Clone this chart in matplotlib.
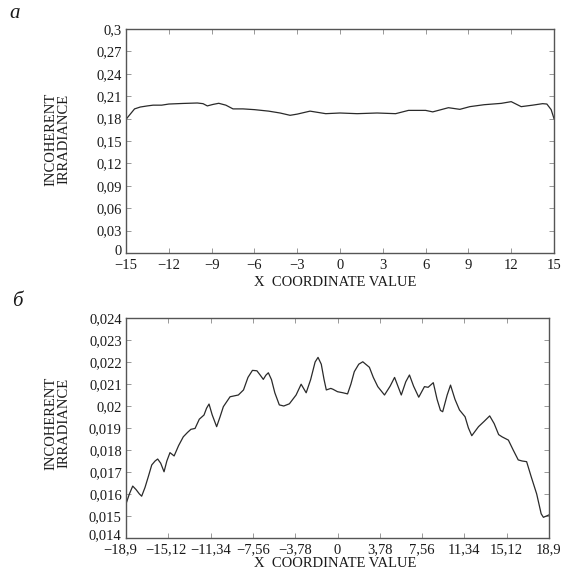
import matplotlib
matplotlib.use("Agg")
import matplotlib.pyplot as plt
import matplotlib.transforms as mtransforms
from matplotlib.ticker import FixedLocator, FixedFormatter

plt.rcParams['font.family'] = ['Liberation Serif', 'DejaVu Serif']

# Panel (a): incoherent irradiance profile
xa = [-15, -14.7, -14.4, -14.0, -13.5, -13.1, -12.5, -12, -11, -10, -9.6, -9.3,
      -8.9, -8.5, -8.0, -7.5, -6.8, -6, -5, -4.2, -3.5, -3, -2.1, -1, 0, 1.2,
      2.6, 3.9, 4.8, 6, 6.5, 7.6, 8.4, 9.1, 10.1, 11.3, 12, 12.7, 13.5, 14.2,
      14.5, 14.8, 15]
ya = [0.179, 0.186, 0.193, 0.1955, 0.197, 0.198, 0.198, 0.1995, 0.2003, 0.2009,
      0.200, 0.197, 0.199, 0.2005, 0.198, 0.193, 0.193, 0.192, 0.190, 0.1875,
      0.1844, 0.186, 0.190, 0.1866, 0.1875, 0.1866, 0.1875, 0.1866, 0.191,
      0.191, 0.189, 0.1946, 0.1924, 0.196, 0.1986, 0.2004, 0.2027, 0.196,
      0.198, 0.200, 0.1995, 0.192, 0.180]
xticks_a = [-15, -12, -9, -6, -3, 0, 3, 6, 9, 12, 15]
xlabels_a = ['\u221215', '\u221212', '\u22129', '\u22126', '\u22123', '0',
             '3', '6', '9', '12', '15']
yticks_a = [0, 0.03, 0.06, 0.09, 0.12, 0.15, 0.18, 0.21, 0.24, 0.27, 0.3]
ylabels_a = ['0', '0,03', '0,06', '0,09', '0,12', '0,15', '0,18', '0,21',
             '0,24', '0,27', '0,3']

# Panel (б)
xb = [-18.9, -18.6, -18.3, -18.0, -17.7, -17.5, -17.2, -16.9, -16.6, -16.3,
      -16.07, -15.8, -15.5, -15.25, -14.97, -14.6, -14.2, -13.78, -13.4, -13.1,
      -12.73, -12.35, -11.93, -11.7, -11.48, -11.2, -10.8, -10.5, -10.2, -9.6,
      -8.86, -8.4, -8.0, -7.6, -7.2, -6.9, -6.63, -6.4, -6.18, -5.9, -5.6,
      -5.2, -4.8, -4.3, -3.7, -3.25, -2.8, -2.4, -2.0, -1.74, -1.45, -1.2,
      -1.0, -0.6, -0.4, 0, 0.5, 0.9, 1.2, 1.5, 1.9, 2.26, 2.85, 3.2, 3.6, 4.2,
      4.7, 5.1, 5.4, 5.7, 6.1, 6.43, 6.8, 7.26, 7.77, 8.1, 8.56, 8.9, 9.2, 9.4,
      9.8, 10.1, 10.5, 10.9, 11.4, 11.7, 12.0, 12.6, 13.1, 13.6, 14.0, 14.4,
      14.7, 15.27, 15.7, 16.15, 16.5, 16.9, 17.3, 17.8, 18.2, 18.4, 18.9]
yb = [0.01555, 0.0160, 0.01636, 0.0162, 0.0160, 0.0159, 0.0163, 0.0168,
      0.01732, 0.0175, 0.01759, 0.0174, 0.01701, 0.0175, 0.01788, 0.01773,
      0.0182, 0.0186, 0.0188, 0.01894, 0.01898, 0.0194, 0.01959, 0.0199,
      0.02009, 0.0196, 0.01906, 0.0195, 0.01997, 0.02042, 0.0205, 0.02073,
      0.0213, 0.02162, 0.0216, 0.0214, 0.02121, 0.0214, 0.02151, 0.0212,
      0.0206, 0.02005, 0.0200, 0.0201, 0.0205, 0.02099, 0.0206, 0.0212,
      0.0220, 0.02221, 0.0219, 0.0212, 0.02073, 0.0208, 0.02076, 0.02065,
      0.0206, 0.02055, 0.0210, 0.02156, 0.0219, 0.02201, 0.02176, 0.0213,
      0.02088, 0.0205, 0.0209, 0.0213, 0.0209, 0.0205, 0.0211, 0.02141,
      0.0209, 0.0204, 0.02088, 0.02085, 0.02106, 0.0203, 0.0198, 0.01974,
      0.0205, 0.02095, 0.0203, 0.01982, 0.01951, 0.0190, 0.01865, 0.01906,
      0.0193, 0.01955, 0.0192, 0.0187, 0.0186, 0.01845, 0.0180, 0.01755,
      0.0175, 0.01747, 0.0168, 0.0160, 0.0151, 0.01494, 0.01505]
xticks_b = [-18.9, -15.12, -11.34, -7.56, -3.78, 0, 3.78, 7.56, 11.34, 15.12, 18.9]
xlabels_b = ['\u221218,9', '\u221215,12', '\u221211,34', '\u22127,56',
             '\u22123,78', '0', '3,78', '7,56', '11,34', '15,12', '18,9']
yticks_b = [0.014, 0.015, 0.016, 0.017, 0.018, 0.019, 0.02, 0.021, 0.022,
            0.023, 0.024]
ylabels_b = ['0,014', '0,015', '0,016', '0,017', '0,018', '0,019', '0,02',
             '0,021', '0,022', '0,023', '0,024']

W, H = 567, 572
fig = plt.figure(figsize=(W / 100, H / 100), dpi=100)

spine_col = '#555555'
line_col = '#2a2a2a'
txt_col = '#1a1a1a'
fs = 10.5


def style(ax, xt, xl, yt, yl, xlim, ylim):
    ax.set_xlim(*xlim)
    ax.set_ylim(*ylim)
    ax.xaxis.set_major_locator(FixedLocator(xt))
    ax.xaxis.set_major_formatter(FixedFormatter(xl))
    ax.yaxis.set_major_locator(FixedLocator(yt))
    ax.yaxis.set_major_formatter(FixedFormatter(yl))
    ax.tick_params(direction='in', length=3.5, width=0.6, color='#888888',
                   top=True, right=True, labelsize=fs, pad=3,
                   labelcolor=txt_col)
    ax.tick_params(axis='x', pad=4)
    for s in ax.spines.values():
        s.set_color(spine_col)
        s.set_linewidth(1.0)


def shift(lbl, dx, dy):
    lbl.set_transform(lbl.get_transform() +
                      mtransforms.ScaledTranslation(dx / 100, dy / 100,
                                                    fig.dpi_scale_trans))


ax1 = fig.add_axes([126 / W, 1 - 253 / H, 428 / W, 224 / H])
ax1.plot(xa, ya, color=line_col, lw=0.9)
style(ax1, xticks_a, xlabels_a, yticks_a, ylabels_a, (-15, 15), (0, 0.3))

ax2 = fig.add_axes([126 / W, 1 - 538 / H, 423 / W, 220 / H])
ax2.plot(xb, yb, color=line_col, lw=0.9)
style(ax2, xticks_b, xlabels_b, yticks_b, ylabels_b, (-18.9, 18.9), (0.014, 0.024))

# keep the corner labels from crowding each other
fig.canvas.draw()
shift(ax1.get_yticklabels()[0], 0, 3)
xtl = ax2.get_xticklabels()
shift(xtl[0], -6, 0)
shift(xtl[1], -2, 0)
shift(ax2.get_yticklabels()[0], -1, 4)

# Axis titles and panel letters
for yc in (139, 423):
    fig.text(57 / W, 1 - yc / H, 'INCOHERENT\nIRRADIANCE', rotation=90,
             ha='center', va='center', fontsize=fs, linespacing=1.0,
             color=txt_col)
fig.text(335 / W, 1 - 282 / H, 'X  COORDINATE VALUE', ha='center', va='center',
         fontsize=fs, color=txt_col)
fig.text(335 / W, 1 - 563.5 / H, 'X  COORDINATE VALUE', ha='center', va='center',
         fontsize=fs, color=txt_col)
fig.text(15 / W, 1 - 14 / H, 'a', ha='center', va='center', fontsize=15,
         style='italic', color=txt_col)
fig.text(17 / W, 1 - 301 / H, '\u0431', ha='center', va='center', fontsize=15,
         style='italic', color=txt_col)

fig.savefig('out.png', dpi=100)
